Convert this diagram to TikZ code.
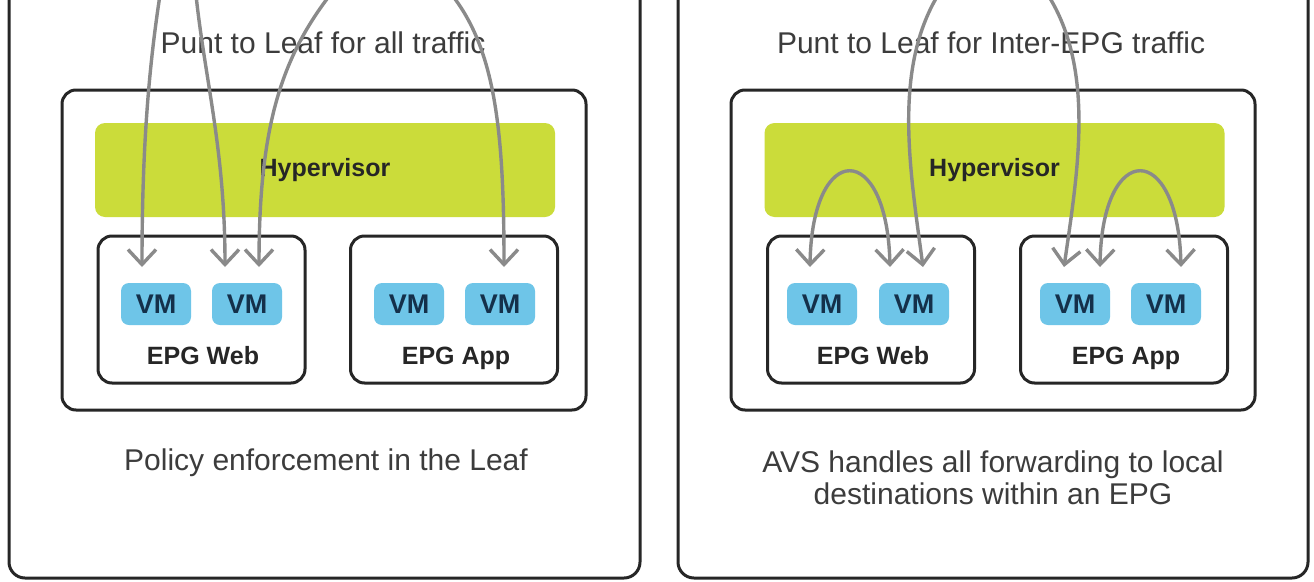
\documentclass[tikz,border=0pt]{standalone}
\usepackage{fontspec}
\setmainfont{Liberation Sans}
\usetikzlibrary{arrows.meta}
\definecolor{hyp}{HTML}{CBDC3A}
\definecolor{vmblue}{HTML}{6EC5E8}
\definecolor{arr}{HTML}{8A8A8A}
\definecolor{frame}{HTML}{262626}
\definecolor{txt}{HTML}{3C3C3C}
\definecolor{lbl}{HTML}{262626}
\definecolor{vmtxt}{HTML}{14304A}
\begin{document}
\begin{tikzpicture}[x=1pt,y=-1pt,
  panelbox/.style={draw=frame,line width=3pt,rounded corners=16pt,inner sep=0pt,minimum width=631pt,minimum height=618pt},
  hostbox/.style={draw=frame,line width=3pt,rounded corners=14pt,inner sep=0pt,minimum width=524pt,minimum height=320pt},
  hypbox/.style={fill=hyp,rounded corners=10pt,inner sep=0pt,minimum width=460pt,minimum height=94pt,font=\fontsize{25}{30}\selectfont\bfseries,text=lbl},
  epgbox/.style={draw=frame,line width=3pt,rounded corners=14pt,inner sep=0pt,minimum width=207pt,minimum height=147pt},
  vmbox/.style={fill=vmblue,rounded corners=8pt,inner sep=0pt,minimum width=70pt,minimum height=42pt,font=\fontsize{27}{30}\selectfont\bfseries,text=vmtxt},
  epglabel/.style={font=\fontsize{25}{30}\selectfont\bfseries,text=lbl,anchor=base,inner sep=0pt},
  caption/.style={font=\fontsize{30}{32}\selectfont,text=txt,align=center,inner sep=0pt},
  barb/.tip={Straight Barb[length=15pt,width=28pt]},
  flow/.style={draw=arr,line width=3.4pt,-barb},
  loopflow/.style={draw=arr,line width=3.4pt,barb-barb}
]
\useasboundingbox (0,0) rectangle (1314,581);
\clip (0,0) rectangle (1314,581);
\fill[white] (0,0) rectangle (1314,581);

% ---------------- left panel ----------------
\node[panelbox] (Lpanel) at (324.5,269) {};
\node[hostbox] (Lhost) at (324,250) {};
\node[hypbox] (Lhyp) at (325,170) {Hypervisor};
\node[epgbox] (Lweb) at (201.5,309.5) {};
\node[epgbox] (Lapp) at (454,309.5) {};
\node[vmbox] (Lvm1) at (156,304) {VM};
\node[vmbox] (Lvm2) at (247,304) {VM};
\node[vmbox] (Lvm3) at (409,304) {VM};
\node[vmbox] (Lvm4) at (500,304) {VM};
\node[epglabel] (Lwebl) at (203,364) {EPG Web};
\node[epglabel] (Lappl) at (456,364) {EPG App};
\node[caption,anchor=base] (Ltitle) at (323,53) {Punt to Leaf for all traffic};
\node[caption,anchor=base] (Lcap) at (326,470) {Policy enforcement in the Leaf};

\coordinate (La1s) at (160,-5);  \coordinate (La1e) at (142,267);
\coordinate (La2s) at (196,-5);  \coordinate (La2e) at (225,267);
\coordinate (La3s) at (330,-5);  \coordinate (La3e) at (259,267);
\coordinate (La4s) at (452,-5);  \coordinate (La4e) at (504,267);
\draw[flow] (La1s) .. controls (150,60) and (142,140) .. (La1e);
\draw[flow] (La2s) .. controls (205,80) and (225,150) .. (La2e);
\draw[flow] (La3s) .. controls (280,60) and (259,130) .. (La3e);
\draw[flow] (La4s) .. controls (495,50) and (504,130) .. (La4e);

% ---------------- right panel ----------------
\node[panelbox,minimum width=630pt] (Rpanel) at (993,269) {};
\node[hostbox] (Rhost) at (993,250) {};
\node[hypbox] (Rhyp) at (994.5,170) {Hypervisor};
\node[epgbox] (Rweb) at (871,309.5) {};
\node[epgbox] (Rapp) at (1124,309.5) {};
\node[vmbox] (Rvm1) at (822,304) {VM};
\node[vmbox] (Rvm2) at (914,304) {VM};
\node[vmbox] (Rvm3) at (1075,304) {VM};
\node[vmbox] (Rvm4) at (1166,304) {VM};
\node[epglabel] (Rwebl) at (873,364) {EPG Web};
\node[epglabel] (Rappl) at (1126,364) {EPG App};
\node[caption,anchor=base] (Rtitle) at (991,53) {Punt to Leaf for Inter-EPG traffic};
\node[caption] (Rcap) at (993,478) {AVS handles all forwarding to local\\destinations within an EPG};

\coordinate (Rl1a) at (810,267);  \coordinate (Rl1b) at (890,267);
\coordinate (Rl2a) at (1100,267); \coordinate (Rl2b) at (1181,267);
\coordinate (RAs) at (938,-5);    \coordinate (RAe) at (923,267);
\coordinate (RBs) at (1048,-5);   \coordinate (RBe) at (1064,267);
\draw[loopflow] (Rl1a) .. controls (812,140) and (887,140) .. (Rl1b);
\draw[loopflow] (Rl2a) .. controls (1102,140) and (1178,140) .. (Rl2b);
\draw[flow] (RAs) .. controls (893,70) and (910,170) .. (RAe);
\draw[flow] (RBs) .. controls (1095,70) and (1078,170) .. (RBe);
\end{tikzpicture}
\end{document}
